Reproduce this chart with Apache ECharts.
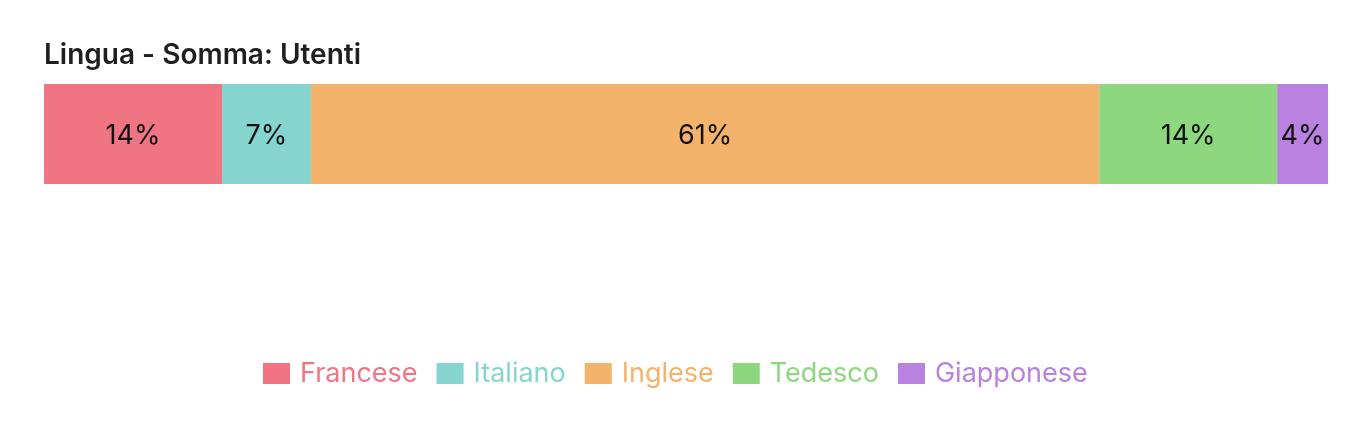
<!DOCTYPE html>
<html>
<head>
<meta charset="utf-8">
<script src="https://cdn.jsdelivr.net/npm/echarts@6/dist/echarts.min.js"></script>
<style>
html,body{margin:0;padding:0;background:#fff;}
#chart{width:1366px;height:434px;}
</style>
</head>
<body>
<div id="chart"></div>
<script>
const titleText = 'Lingua - Somma: Utenti';
const categories = ['Utenti'];
const seriesNames = ['Francese', 'Italiano', 'Inglese', 'Tedesco', 'Giapponese'];
const seriesValues = [2800, 1400, 12400, 2800, 800];
const colors = ['#f07482', '#85d4cf', '#f3b36b', '#8dd77f', '#b981e0'];

const total = seriesValues.reduce((a, b) => a + b, 0);
const fontFamily = 'Inter, "Noto Sans", sans-serif';

const chart = echarts.init(document.getElementById('chart'), null, {renderer: 'canvas'});
chart.setOption({
  animation: false,
  color: colors,
  title: {
    text: titleText,
    left: 39,
    top: 37,
    textStyle: {fontFamily, fontSize: 28, fontWeight: 600, color: '#1f1f1f'}
  },
  legend: {
    bottom: 42,
    left: 258,
    itemWidth: 27,
    itemHeight: 21,
    itemGap: 19,
    icon: 'rect',
    textStyle: {fontFamily, fontSize: 27, padding: [0, 0, 0, 5]},
    data: seriesNames.map((n, i) => ({name: n, textStyle: {color: colors[i]}}))
  },
  grid: {left: 44, right: 38, top: 84, height: 100, containLabel: false},
  xAxis: {type: 'value', min: 0, max: total, show: false},
  yAxis: {type: 'category', data: categories, show: false},
  series: seriesNames.map((name, i) => ({
    name,
    type: 'bar',
    stack: 'total',
    barWidth: 100,
    data: [seriesValues[i]],
    itemStyle: {color: colors[i]},
    label: {
      show: true,
      position: 'inside',
      color: '#111',
      fontFamily,
      fontSize: 27,
      offset: [0, 2],
      formatter: p => Math.round(p.value / total * 100) + '%'
    }
  }))
});
</script>
</body>
</html>
